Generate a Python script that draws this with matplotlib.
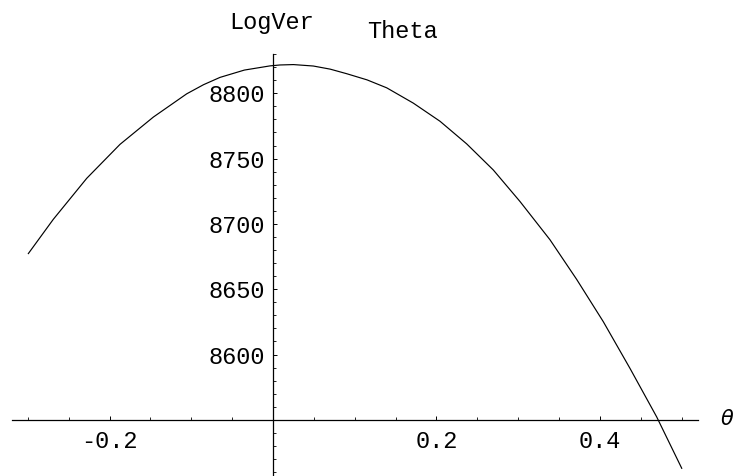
import matplotlib
matplotlib.use('Agg')
import matplotlib.pyplot as plt
from matplotlib.ticker import MultipleLocator

plt.rcParams['axes.unicode_minus'] = False

# curve (theta, log-likelihood)
theta = [-0.2993, -0.2688, -0.2279, -0.1872, -0.1464, -0.1056, -0.0850, -0.0648,
         -0.0350, -0.0037, 0.0086, 0.0250, 0.0493, 0.0700, 0.0902, 0.1150,
         0.1391, 0.1716, 0.2043, 0.2369, 0.2695, 0.3021, 0.3388, 0.3715,
         0.4040, 0.4367, 0.4694, 0.5000]
logver = [8677.3, 8703.5, 8734.9, 8760.9, 8781.8, 8799.6, 8806.6, 8812.2,
          8817.8, 8821.0, 8821.7, 8822.0, 8820.9, 8818.5, 8815.0, 8810.3,
          8804.2, 8792.5, 8778.6, 8761.3, 8741.3, 8717.2, 8687.9, 8657.5,
          8625.2, 8589.4, 8552.2, 8512.9]

xticks = [-0.2, 0.2, 0.4]
xticklabels = ['-0.2', '0.2', '0.4']
yticks = [8600, 8650, 8700, 8750, 8800]
yticklabels = ['8600', '8650', '8700', '8750', '8800']

mono = 'Liberation Mono'

fig = plt.figure(figsize=(7.4, 4.76), dpi=100)
ax = fig.add_axes([12/740, 0.0, 686/740, 1 - 54/476])

ax.plot(theta, logver, color='black', linewidth=0.85)

ax.set_xlim(-0.3193, 0.5199)
ax.set_ylim(8507.0, 8830.1)

ax.spines['left'].set_position(('data', 0))
ax.spines['bottom'].set_position(('data', 8550))
ax.spines['right'].set_visible(False)
ax.spines['top'].set_visible(False)
for s in ['left', 'bottom']:
    ax.spines[s].set_linewidth(0.9)

ax.set_xticks(xticks)
ax.set_xticklabels(xticklabels, fontfamily=mono, fontsize=17)
ax.set_yticks(yticks)
ax.set_yticklabels(yticklabels, fontfamily=mono, fontsize=17)
ax.xaxis.set_minor_locator(MultipleLocator(0.05))
ax.yaxis.set_minor_locator(MultipleLocator(10))
ax.tick_params(which='major', direction='in', length=3.2, width=0.7)
ax.tick_params(which='minor', direction='in', length=2.0, width=0.6)
ax.tick_params(axis='x', which='major', pad=7)
ax.tick_params(axis='y', which='major', pad=6)

fig.text(272/740, 1 - 22/476, 'LogVer', fontfamily=mono, fontsize=17,
         ha='center', va='center')
fig.text(402/740, 1 - 31/476, 'Theta', fontfamily=mono, fontsize=17,
         ha='center', va='center')
fig.text(727/740, 1 - 419/476, r'$\theta$', fontsize=15,
         ha='center', va='center')

fig.savefig('out.png', dpi=100)
